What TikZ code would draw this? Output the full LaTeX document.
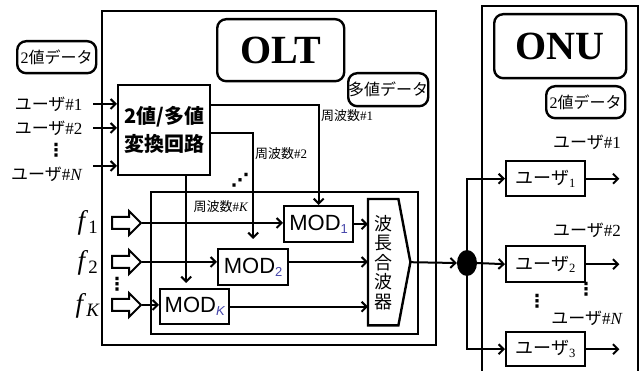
\documentclass[tikz,border=0pt]{standalone}
\usepackage{fontspec}
\setmainfont{Liberation Serif}
\setsansfont{Liberation Sans}
\newfontfamily\jp{Noto Sans CJK JP}
\newfontfamily\symf{DejaVu Sans}
\usetikzlibrary{positioning,arrows.meta,shapes.geometric,shapes.arrows}
\definecolor{subblue}{RGB}{70,70,170}
\newcommand{\modsub}[1]{\textcolor{subblue}{\fontsize{13}{13}\selectfont\raisebox{-3pt}{#1}}}

\begin{document}
\begin{tikzpicture}[
    x=1pt,y=-1pt,
    frame/.style={draw,line width=2.4pt,inner sep=0pt,anchor=north west},
    rbox/.style={frame,rounded corners=9pt},
    modbox/.style={frame,font=\sffamily\fontsize{22}{22}\selectfont},
    userbox/.style={frame,minimum width=79pt,minimum height=35pt,font=\fontsize{18}{18}\selectfont},
    arr/.style={-{Straight Barb[length=5pt,width=10pt]},line width=2pt},
    hollow/.style={single arrow,draw,line width=2pt,minimum height=29pt,inner sep=5pt,single arrow head extend=6pt},
    lbl/.style={font=\fontsize{17}{17}\selectfont},
    dots/.style={inner sep=0pt,font=\symf\bfseries\fontsize{18}{18}\selectfont},
    freq/.style={font=\fontsize{13}{13}\selectfont},
    flbl/.style={font=\fontsize{27}{27}\selectfont}
  ]
    \useasboundingbox (0,0) rectangle (641,371);

    % OLT side
    \node[frame,minimum width=334pt,minimum height=334pt] (olt) at (101,10) {};
    \node[rbox,minimum width=127pt,minimum height=62pt,font=\bfseries\fontsize{40}{40}\selectfont] (olttitle) at (216,18) {OLT};
    \node[rbox,minimum width=79pt,minimum height=32pt,font=\fontsize{16}{16}\selectfont] (bindata) at (16,40) {2{\jp 値データ}};
    \node[rbox,minimum width=80pt,minimum height=33pt,font=\jp\fontsize{16}{16}\selectfont] (multidata) at (347,72) {多値データ};
    \node[frame,minimum width=92pt,minimum height=90pt,align=center,font=\jp\bfseries\fontsize{20}{28}\selectfont] (conv) at (117,84) {2値/多値\\変換回路};
    \node[frame,minimum width=267pt,minimum height=142pt] (inner) at (150,191) {};

    \node[modbox,minimum width=69pt,minimum height=36pt] (mod1) at (283,205) {MOD\modsub{1}};
    \node[modbox,minimum width=70pt,minimum height=36pt] (mod2) at (217,248) {MOD\modsub{2}};
    \node[modbox,minimum width=69pt,minimum height=35pt] (modk) at (159,288) {MOD\modsub{\itshape K}};

    \node[inner sep=0pt,anchor=north west,minimum width=30pt,minimum height=126pt,align=center,font=\jp\fontsize{18}{19.5}\selectfont] (mux) at (368,199) {波\\長\\合\\波\\器};
    \coordinate (muxtip) at ([xshift=12pt]mux.east);
    \draw[line width=2.4pt] (mux.north west) -- (mux.north east) -- (muxtip) -- (mux.south east) -- (mux.south west) -- cycle;

    % user inputs
    \node[lbl,anchor=east] (in1) at (86,104) {{\jp ユーザ}\#1};
    \node[lbl,anchor=east] (in2) at (86,128) {{\jp ユーザ}\#2};
    \node[dots] (indots) at (56,150) {⋮};
    \node[lbl,anchor=east] (inN) at (86,174) {{\jp ユーザ}\#\textit{N}};
    \draw[arr] ([xshift=7pt]in1.east) -- (in1.east -| conv.west);
    \draw[arr] ([xshift=7pt]in2.east) -- (in2.east -| conv.west);
    \draw[arr] ([xshift=7pt,yshift=8pt]inN.east) -- ([yshift=8pt]inN.east -| conv.west);

    % carriers
    \node[flbl] (f1) at (88,223) {\textit{f}\textsubscript{1}};
    \node[flbl] (f2) at (88,263) {\textit{f}\textsubscript{2}};
    \node[flbl] (fk) at (88,306) {\textit{f}\textsubscript{\textit{K}}};
    \node[hollow] (ha1) at (123.5,223) {};
    \node[hollow] (ha2) at (123.5,262) {};
    \node[hollow] (hak) at (123.5,305) {};
    \node[dots] (fdots) at (117,284) {⋮};

    \draw[arr] (ha1.tip) -- (ha1.tip -| mod1.west);
    \draw[arr] (ha2.tip) -- (ha2.tip -| mod2.west);
    \draw[arr] (hak.tip) -- (hak.tip -| modk.west);
    \draw[arr] (mod1.east) -- (mod1.east -| mux.west);
    \draw[arr] (mod2.east |- ha2.tip) -- (ha2.tip -| mux.west);
    \draw[arr] (modk.east) -- (modk.east -| mux.west);

    % converter to modulators
    \draw[arr] ([yshift=-21pt]conv.north east) -| (mod1.north);
    \draw[arr,shorten >=9pt] ([yshift=-49pt]conv.north east) -| (mod2.north);
    \draw[arr,shorten >=5pt] ([xshift=22pt]conv.south) -- ([xshift=22pt]conv.south |- modk.north);
    \node[freq] (fq1) at (347,116) {{\jp 周波数}\#1};
    \node[freq] (fq2) at (281,154) {{\jp 周波数}\#2};
    \node[freq] (fqk) at (221,207) {{\jp 周波数}\#\textit{K}};
    \node[dots] (kdots) at (240,180) {⋰};

    % splitter
    \node[ellipse,fill,minimum width=20pt,minimum height=26pt,inner sep=0pt] (junc) at (467,263) {};
    \draw[arr] (muxtip) -- (junc.west);

    % ONU side
    \node[frame,minimum width=156pt,minimum height=380pt] (onu) at (481,5) {};
    \node[rbox,minimum width=132pt,minimum height=64pt,font=\bfseries\fontsize{40}{40}\selectfont] (onutitle) at (493,13) {ONU};
    \node[rbox,minimum width=79pt,minimum height=32pt,font=\fontsize{16}{16}\selectfont] (onudata) at (545,85) {2{\jp 値データ}};
    \node[userbox] (u1) at (505,160) {{\jp ユーザ}\textsubscript{1}};
    \node[userbox,minimum height=36pt] (u2) at (505,245) {{\jp ユーザ}\textsubscript{2}};
    \node[userbox,minimum height=34pt] (u3) at (505,331) {{\jp ユーザ}\textsubscript{3}};
    \node[lbl] (lu1) at (587,142) {{\jp ユーザ}\#1};
    \node[lbl] (lu2) at (587,230) {{\jp ユーザ}\#2};
    \node[lbl] (luN) at (587,318) {{\jp ユーザ}\#\textit{N}};
    \node[dots] (odots1) at (537,301) {⋮};
    \node[dots] (odots2) at (586,289) {⋮};

    \draw[arr] (junc.center) -- (junc |- u1.west) -- (u1.west);
    \draw[arr] (junc.east) -- (u2.west);
    \draw[arr] (junc.center) -- (junc |- u3.west) -- (u3.west);
    \coordinate[right=33pt of u1] (out1);
    \coordinate[right=33pt of u2] (out2);
    \coordinate[right=33pt of u3] (out3);
    \draw[arr] (u1.east) -- (out1);
    \draw[arr] (u2.east) -- (out2);
    \draw[arr] (u3.east) -- (out3);
  \end{tikzpicture}
\end{document}
